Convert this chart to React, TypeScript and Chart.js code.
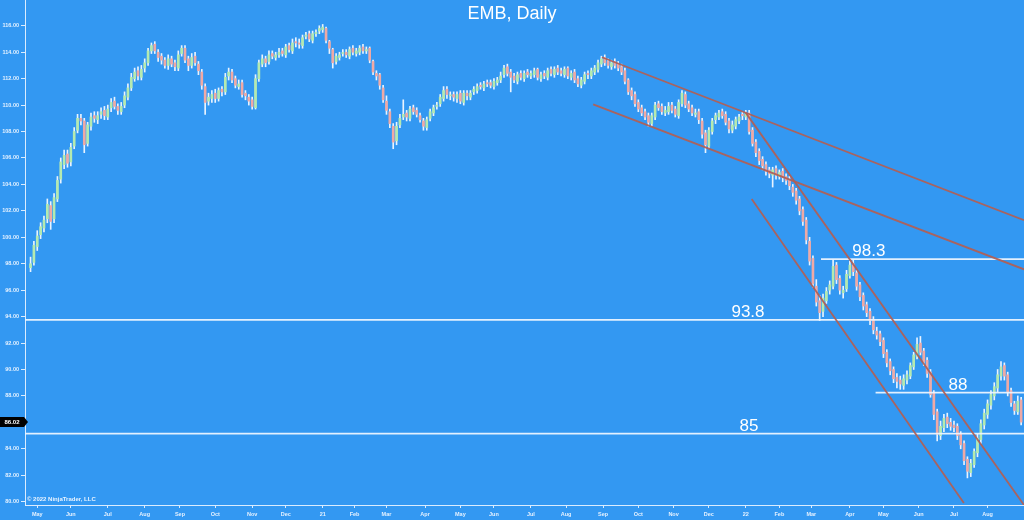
import React, { useEffect, useRef } from 'react';
import { Chart, registerables } from 'chart.js';

Chart.register(...registerables);

const TITLE = 'EMB, Daily';
const COPYRIGHT = '© 2022 NinjaTrader, LLC';
const BG = '#3398f2';
const FONT = '"Liberation Sans", Arial, sans-serif';

// x axis = trading-session index (0 = first session of May 2020)
const FIRST_SESSION = -4;
const SESSION_STEP = 2;
const X_MIN = -7.3;
const X_MAX = 587.7;
const Y_MIN = 79.75;
const Y_MAX = 117.95;

const MONTH_TICKS = [0, 20, 42, 64, 85, 106, 128, 148, 170, 189, 208, 231, 252, 272, 294, 315, 337, 358, 379, 400, 422, 442, 461, 484, 504, 525, 546, 566];
const MONTH_LABELS = ['May', 'Jun', 'Jul', 'Aug', 'Sep', 'Oct', 'Nov', 'Dec', '21', 'Feb', 'Mar', 'Apr', 'May', 'Jun', 'Jul', 'Aug', 'Sep', 'Oct', 'Nov', 'Dec', '22', 'Feb', 'Mar', 'Apr', 'May', 'Jun', 'Jul', 'Aug'];
const PRICE_TICKS = [80, 82, 84, 86, 88, 90, 92, 94, 96, 98, 100, 102, 104, 106, 108, 110, 112, 114, 116];

const OPEN = [
  97.7, 98.1, 99.3, 100.2, 100.7, 101.4, 102.4, 101.4, 102.9, 104.4,
  105.5, 106.3, 105.7, 106.9, 108.1, 109.0, 108.8, 107.1, 108.4, 109.2,
  108.9, 109.3, 109.6, 109.1, 109.8, 110.3, 109.9, 109.5, 110.0, 110.6,
  111.3, 112.0, 112.6, 112.1, 112.8, 113.2, 114.1, 114.6, 114.0, 113.7,
  113.4, 113.0, 113.5, 113.2, 112.8, 113.9, 114.3, 113.5, 113.0, 113.7,
  113.1, 112.5, 111.4, 110.3, 110.5, 110.9, 110.5, 111.2, 111.0, 112.2,
  112.5, 112.0, 111.4, 111.7, 110.9, 110.6, 110.4, 109.8, 112.0, 113.1,
  113.5, 113.3, 113.9, 113.6, 113.8, 114.1, 113.8, 114.5, 114.1, 114.8,
  114.7, 114.5, 115.2, 115.4, 114.9, 115.4, 115.6, 115.7, 115.8, 114.8,
  114.2, 113.3, 113.6, 113.9, 114.0, 113.7, 114.3, 113.9, 114.0, 114.4,
  114.1, 114.3, 113.3, 112.4, 112.3, 111.3, 110.3, 109.5, 108.4, 107.3,
  108.5, 109.1, 109.4, 109.0, 109.8, 109.6, 109.2, 108.8, 108.3, 109.0,
  109.4, 109.9, 110.1, 110.5, 111.2, 110.7, 110.8, 110.5, 110.9, 110.2,
  110.9, 110.6, 111.0, 111.1, 111.5, 111.3, 111.7, 111.7, 111.4, 111.7,
  111.9, 112.3, 112.9, 112.5, 112.2, 111.8, 112.4, 112.0, 112.5, 112.2,
  112.3, 112.7, 112.0, 112.4, 112.1, 112.7, 112.3, 112.8, 112.6, 112.3,
  112.8, 112.1, 112.5, 112.0, 111.5, 111.8, 112.4, 112.2, 112.5, 112.7,
  113.1, 113.6, 113.3, 112.9, 113.3, 113.1, 112.9, 112.6, 111.9, 111.1,
  110.8, 110.2, 109.8, 109.5, 109.2, 108.6, 109.1, 110.1, 109.9, 109.4,
  109.5, 110.0, 109.7, 109.2, 110.1, 110.8, 110.1, 109.8, 109.3, 109.5,
  108.8, 107.9, 106.9, 108.0, 108.9, 109.1, 109.5, 109.3, 108.8, 108.1,
  108.4, 108.8, 109.3, 109.1, 109.4, 108.1, 107.2, 106.5, 105.9, 105.5,
  105.1, 104.7, 105.2, 104.6, 105.0, 104.6, 104.4, 103.8, 103.5, 102.9,
  102.1, 101.3, 99.7, 98.4, 96.3, 95.2, 94.4, 95.2, 96.0, 96.3,
  97.9, 96.9, 95.8, 96.1, 97.1, 98.0, 97.3, 96.4, 95.6, 94.9,
  94.4, 93.8, 92.9, 92.7, 92.2, 91.3, 90.6, 90.0, 89.4, 89.2,
  88.8, 89.2, 89.5, 90.2, 91.0, 92.0, 91.4, 90.7, 89.8, 88.2,
  86.8, 85.0, 85.6, 86.4, 86.0, 85.8, 85.7, 85.1, 84.4, 83.2,
  82.2, 82.8, 83.7, 84.7, 85.8, 86.6, 87.3, 88.0, 88.6, 89.5,
  90.3, 89.6, 88.4, 87.4, 86.8, 87.7,
];

const HIGH = [
  98.5, 99.7, 100.5, 101.1, 101.6, 102.9, 102.7, 103.3, 104.6, 106.0,
  106.6, 106.6, 107.1, 108.3, 109.3, 109.3, 109.0, 108.7, 109.4, 109.5,
  109.5, 109.8, 109.9, 110.0, 110.5, 110.6, 110.1, 110.2, 111.0, 111.6,
  112.4, 112.8, 112.9, 113.0, 113.5, 114.3, 114.7, 114.8, 114.2, 113.9,
  113.6, 113.8, 113.7, 113.4, 114.1, 114.5, 114.5, 113.7, 113.9, 114.0,
  113.3, 112.7, 111.6, 110.9, 111.1, 111.2, 111.3, 111.4, 112.4, 112.8,
  112.7, 112.2, 111.9, 111.9, 111.1, 110.8, 110.6, 112.3, 113.4, 113.8,
  113.7, 114.1, 114.1, 114.0, 114.3, 114.3, 114.6, 114.7, 115.0, 115.1,
  115.0, 115.3, 115.5, 115.6, 115.6, 115.7, 116.0, 116.1, 115.9, 114.9,
  114.3, 113.9, 114.0, 114.2, 114.2, 114.4, 114.5, 114.3, 114.5, 114.6,
  114.4, 114.4, 113.4, 112.6, 112.4, 111.5, 110.7, 109.7, 108.6, 108.7,
  109.3, 110.4, 109.6, 109.9, 110.0, 109.8, 109.4, 109.0, 109.1, 109.7,
  110.0, 110.2, 110.8, 111.4, 111.4, 111.0, 111.0, 111.0, 111.1, 111.1,
  111.1, 111.1, 111.4, 111.6, 111.7, 111.8, 111.9, 111.9, 112.0, 112.1,
  112.5, 113.0, 113.1, 112.7, 112.4, 112.5, 112.6, 112.6, 112.7, 112.6,
  112.8, 112.8, 112.5, 112.6, 112.8, 112.9, 112.9, 113.0, 112.8, 112.9,
  112.9, 112.6, 112.7, 112.2, 112.1, 112.5, 112.6, 112.8, 113.0, 113.4,
  113.7, 113.8, 113.5, 113.4, 113.5, 113.3, 113.1, 112.8, 112.0, 111.3,
  111.0, 110.4, 110.0, 109.7, 109.4, 109.4, 110.2, 110.3, 110.1, 109.9,
  110.2, 110.2, 109.9, 110.4, 111.1, 111.0, 110.3, 110.0, 109.7, 109.7,
  109.0, 108.1, 108.3, 109.0, 109.4, 109.6, 109.7, 109.5, 109.0, 108.8,
  109.1, 109.3, 109.5, 109.6, 109.6, 108.3, 107.4, 106.7, 106.1, 105.7,
  105.3, 105.3, 105.4, 105.1, 105.2, 104.8, 104.6, 104.0, 103.7, 103.1,
  102.3, 101.5, 100.0, 98.6, 96.8, 95.6, 95.7, 96.2, 96.7, 98.3,
  98.1, 97.1, 96.3, 97.5, 98.2, 98.3, 97.5, 96.6, 95.8, 95.1,
  94.6, 94.0, 93.2, 92.9, 92.4, 91.5, 90.8, 90.2, 89.7, 89.5,
  89.6, 89.9, 90.5, 91.3, 92.4, 92.5, 91.6, 90.9, 90.0, 88.4,
  87.0, 86.1, 86.6, 86.7, 86.3, 86.1, 85.9, 85.3, 84.6, 83.4,
  83.2, 84.0, 85.1, 86.2, 87.0, 87.7, 88.4, 89.0, 90.0, 90.6,
  90.5, 89.8, 88.6, 87.6, 88.0, 87.9,
];

const LOW = [
  97.4, 97.9, 99.0, 99.9, 100.4, 101.1, 100.6, 101.1, 102.7, 104.1,
  105.2, 105.3, 105.4, 106.7, 107.9, 108.5, 106.4, 106.9, 108.1, 108.7,
  108.6, 109.0, 108.9, 108.9, 109.5, 109.7, 109.3, 109.3, 109.8, 110.4,
  111.1, 111.8, 111.9, 111.9, 112.5, 113.0, 113.9, 113.9, 113.3, 113.1,
  112.8, 112.7, 112.9, 112.6, 112.6, 113.7, 113.2, 112.6, 112.8, 113.0,
  112.3, 111.2, 109.3, 110.0, 110.2, 110.2, 110.3, 110.7, 110.8, 111.9,
  111.7, 111.3, 111.2, 110.6, 110.4, 110.0, 109.7, 109.7, 111.8, 112.9,
  112.9, 113.1, 113.5, 113.4, 113.6, 113.7, 113.6, 114.0, 113.9, 114.4,
  114.3, 114.3, 115.0, 114.8, 114.7, 115.2, 115.4, 115.5, 114.7, 113.9,
  112.8, 113.1, 113.4, 113.7, 113.6, 113.5, 113.8, 113.7, 113.8, 113.9,
  113.9, 113.2, 112.3, 111.9, 111.2, 110.2, 109.3, 108.3, 106.7, 107.0,
  108.3, 108.9, 108.8, 108.8, 109.3, 109.1, 108.7, 108.1, 108.1, 108.8,
  109.2, 109.7, 109.9, 110.3, 110.5, 110.4, 110.3, 110.2, 110.1, 110.0,
  110.4, 110.4, 110.8, 110.9, 111.2, 111.1, 111.4, 111.3, 111.2, 111.5,
  111.7, 112.1, 112.2, 111.0, 111.7, 111.6, 111.9, 111.8, 112.1, 112.0,
  112.1, 111.9, 111.8, 112.0, 111.9, 112.2, 112.1, 112.3, 112.2, 112.1,
  112.0, 111.9, 111.7, 111.4, 111.3, 111.6, 112.0, 112.0, 112.3, 112.5,
  112.9, 113.0, 112.8, 112.7, 112.8, 112.6, 112.3, 111.6, 110.8, 110.4,
  109.9, 109.5, 109.2, 108.9, 108.4, 108.4, 108.9, 109.6, 109.3, 109.2,
  109.3, 109.4, 109.1, 109.0, 109.9, 109.8, 109.5, 109.2, 109.1, 108.6,
  107.5, 106.4, 106.7, 107.8, 108.6, 108.9, 109.0, 108.5, 107.9, 107.9,
  108.2, 108.6, 108.9, 108.9, 107.8, 106.9, 106.1, 105.5, 105.1, 104.7,
  104.5, 103.8, 104.4, 104.4, 104.2, 104.0, 103.6, 103.1, 102.5, 101.7,
  100.9, 99.5, 97.9, 96.2, 94.8, 93.7, 94.0, 95.0, 95.7, 96.1,
  96.5, 95.7, 95.4, 95.9, 96.9, 97.1, 96.0, 95.2, 94.5, 94.0,
  93.4, 92.7, 92.3, 91.8, 90.9, 90.2, 89.6, 89.0, 88.6, 88.5,
  88.5, 88.9, 89.3, 90.0, 90.8, 91.1, 90.3, 89.4, 87.9, 86.2,
  84.6, 84.7, 85.3, 85.6, 85.4, 85.3, 84.7, 84.0, 82.8, 81.8,
  81.9, 82.6, 83.4, 84.4, 85.5, 86.3, 87.0, 87.7, 88.3, 89.2,
  89.2, 88.0, 87.2, 86.6, 86.6, 85.8,
];

const CLOSE = [
  98.0, 99.4, 100.1, 100.8, 101.3, 102.5, 101.2, 103.0, 104.3, 105.7,
  106.2, 105.6, 106.8, 108.0, 109.0, 108.8, 107.0, 108.5, 109.1, 109.0,
  109.2, 109.5, 109.2, 109.7, 110.2, 109.9, 109.6, 109.9, 110.7, 111.3,
  112.1, 112.5, 112.2, 112.7, 113.2, 114.1, 114.5, 114.1, 113.6, 113.4,
  113.0, 113.5, 113.1, 112.9, 113.8, 114.3, 113.4, 113.0, 113.6, 113.2,
  112.6, 111.5, 110.2, 110.6, 110.8, 110.5, 111.1, 111.0, 112.1, 112.5,
  111.9, 111.5, 111.6, 110.8, 110.7, 110.3, 109.9, 112.0, 113.2, 113.5,
  113.2, 113.8, 113.7, 113.8, 114.0, 113.9, 114.4, 114.2, 114.7, 114.7,
  114.6, 115.1, 115.3, 115.0, 115.4, 115.5, 115.8, 115.9, 114.9, 114.3,
  113.2, 113.7, 113.8, 113.9, 113.8, 114.2, 114.0, 114.1, 114.3, 114.1,
  114.2, 113.4, 112.5, 112.2, 111.5, 110.4, 109.6, 108.6, 107.2, 108.4,
  109.0, 109.3, 109.1, 109.7, 109.5, 109.3, 108.9, 108.4, 108.9, 109.5,
  109.8, 110.0, 110.6, 111.1, 110.8, 110.7, 110.6, 110.8, 110.3, 110.9,
  110.7, 110.9, 111.2, 111.4, 111.4, 111.6, 111.6, 111.5, 111.8, 111.9,
  112.2, 112.8, 112.4, 112.1, 111.9, 112.3, 112.1, 112.4, 112.3, 112.4,
  112.6, 112.1, 112.3, 112.2, 112.6, 112.4, 112.7, 112.5, 112.4, 112.7,
  112.2, 112.4, 111.9, 111.6, 111.9, 112.3, 112.3, 112.6, 112.8, 113.2,
  113.5, 113.2, 113.0, 113.2, 113.0, 112.8, 112.5, 111.8, 111.0, 110.7,
  110.1, 109.7, 109.4, 109.1, 108.7, 109.2, 110.0, 109.8, 109.5, 109.6,
  109.9, 109.6, 109.3, 110.2, 110.9, 110.0, 109.7, 109.4, 109.4, 108.9,
  107.8, 107.0, 108.1, 108.8, 109.2, 109.4, 109.2, 108.7, 108.2, 108.5,
  108.9, 109.1, 109.2, 109.4, 108.0, 107.1, 106.4, 105.8, 105.4, 105.0,
  104.8, 105.1, 104.7, 104.9, 104.5, 104.3, 103.9, 103.4, 102.8, 102.0,
  101.2, 99.8, 98.2, 96.5, 95.1, 94.3, 95.4, 95.9, 96.4, 97.8,
  96.8, 96.0, 96.0, 97.2, 97.9, 97.4, 96.3, 95.5, 94.8, 94.3,
  93.7, 93.0, 92.6, 92.1, 91.2, 90.5, 89.9, 89.3, 89.1, 88.9,
  89.3, 89.6, 90.3, 91.1, 91.9, 91.3, 90.6, 89.7, 88.1, 86.6,
  85.1, 85.7, 86.3, 85.9, 85.7, 85.6, 85.0, 84.3, 83.1, 82.3,
  82.9, 83.8, 84.8, 85.9, 86.7, 87.4, 88.1, 88.7, 89.6, 90.2,
  89.5, 88.3, 87.5, 86.9, 87.6, 86.02,
];

const LAST_PRICE = 86.02;

// horizontal support / resistance levels
const LEVEL_VALUES = [93.75, 98.35, 88.25, 85.15];
const LEVEL_FROM = [-7.3, 466.8, 499.3, -7.3];
const LEVEL_TO = [587.7, 587.7, 587.7, 587.7];
const LEVEL_LABELS = ['93.8', '98.3', '88', '85'];
const LEVEL_LABEL_AT = [423.3, 495.3, 548.4, 423.9];

// trend / channel lines
const TREND_X1 = [336.3, 331.1, 421.9, 425.5];
const TREND_Y1 = [113.62, 110.06, 109.43, 102.9];
const TREND_X2 = [587.7, 587.7, 587.7, 551.9];
const TREND_Y2 = [101.3, 97.58, 79.75, 79.9];

const UP = '#b4eab0';
const DOWN = '#efa9a5';
const WICK = 'rgba(242,248,255,0.95)';
const AXIS = 'rgba(228,240,255,0.95)';
const TREND = 'rgba(176,96,86,0.95)';
const LEVEL = 'rgba(236,244,255,0.95)';

const overlay = {
  id: 'overlay',
  beforeDraw(chart: any) {
    const { ctx, width, height } = chart;
    ctx.save();
    ctx.fillStyle = BG;
    ctx.fillRect(0, 0, width, height);
    ctx.restore();
  },
  afterDraw(chart: any) {
    const { ctx, chartArea, scales } = chart;
    const x = scales.x;
    const y = scales.y;
    ctx.save();
    // level labels
    ctx.fillStyle = '#ffffff';
    ctx.font = `17px ${FONT}`;
    ctx.textAlign = 'center';
    ctx.textBaseline = 'alphabetic';
    LEVEL_VALUES.forEach((v, i) => {
      ctx.fillText(LEVEL_LABELS[i], x.getPixelForValue(LEVEL_LABEL_AT[i]), y.getPixelForValue(v) - 3);
    });
    // title
    ctx.font = `18px ${FONT}`;
    ctx.textBaseline = 'middle';
    ctx.fillText(TITLE, chart.width / 2, 14);
    // copyright
    ctx.font = `bold 6px ${FONT}`;
    ctx.textAlign = 'left';
    ctx.fillStyle = '#e8f3ff';
    ctx.fillText(COPYRIGHT, chartArea.left + 2, 499);
    // last price marker
    const py = y.getPixelForValue(LAST_PRICE);
    ctx.fillStyle = '#000000';
    ctx.beginPath();
    ctx.moveTo(0, py - 5);
    ctx.lineTo(24, py - 5);
    ctx.lineTo(28, py);
    ctx.lineTo(24, py + 5);
    ctx.lineTo(0, py + 5);
    ctx.closePath();
    ctx.fill();
    ctx.fillStyle = '#ffffff';
    ctx.font = `bold 6px ${FONT}`;
    ctx.textAlign = 'center';
    ctx.fillText(LAST_PRICE.toFixed(2), 12, py + 0.5);
    ctx.restore();
  },
};

export default function App() {
  const ref = useRef<HTMLCanvasElement>(null);

  useEffect(() => {
    document.body.style.margin = '0';
    document.body.style.background = BG;
    const n = Math.min(OPEN.length, HIGH.length, LOW.length, CLOSE.length);
    const xs = Array.from({ length: n }, (_, i) => FIRST_SESSION + SESSION_STEP * i);
    const wicks = xs.map((xv, i) => ({ x: xv, y: [LOW[i], HIGH[i]] }));
    const bodies = xs.map((xv, i) => ({ x: xv, y: [OPEN[i], CLOSE[i]] }));
    const bodyColors = xs.map((_, i) => (CLOSE[i] >= OPEN[i] ? UP : DOWN));

    const levelSets = LEVEL_VALUES.map((v, i) => ({
      type: 'line',
      data: [
        { x: LEVEL_FROM[i], y: v },
        { x: LEVEL_TO[i], y: v },
      ],
      borderColor: LEVEL,
      borderWidth: 1.8,
      pointRadius: 0,
      fill: false,
      order: 2,
    }));
    const trendSets = TREND_X1.map((x1, i) => ({
      type: 'line',
      data: [
        { x: x1, y: TREND_Y1[i] },
        { x: TREND_X2[i], y: TREND_Y2[i] },
      ],
      borderColor: TREND,
      borderWidth: 1.8,
      pointRadius: 0,
      fill: false,
      order: 1,
    }));

    const tickFont = { family: FONT, size: 5.5, weight: 'bold' as const };

    const chart = new Chart(ref.current as HTMLCanvasElement, {
      type: 'bar',
      data: {
        datasets: [
          {
            type: 'bar',
            data: wicks as any,
            backgroundColor: WICK,
            barThickness: 1,
            grouped: false,
            order: 10,
          },
          {
            type: 'bar',
            data: bodies as any,
            backgroundColor: bodyColors,
            barThickness: 2,
            minBarLength: 1,
            grouped: false,
            order: 9,
          },
          ...(levelSets as any[]),
          ...(trendSets as any[]),
        ] as any,
      },
      options: {
        responsive: false,
        animation: false,
        devicePixelRatio: 1,
        layout: { padding: 0 },
        plugins: {
          legend: { display: false },
          tooltip: { enabled: false },
          title: { display: false },
        },
        events: [],
        scales: {
          x: {
            type: 'linear',
            min: X_MIN,
            max: X_MAX,
            offset: false,
            grid: { display: true, drawOnChartArea: false, offset: false, tickLength: 3, color: AXIS },
            border: { display: true, color: AXIS, width: 1 },
            ticks: {
              autoSkip: false,
              maxRotation: 0,
              padding: 3,
              color: '#e4f1ff',
              font: tickFont,
              callback: (value: any) => {
                const idx = MONTH_TICKS.indexOf(Number(value));
                return idx >= 0 ? MONTH_LABELS[idx] : '';
              },
            },
            afterBuildTicks: (axis: any) => {
              axis.ticks = MONTH_TICKS.map((v) => ({ value: v }));
            },
            afterFit: (axis: any) => {
              axis.height = 15;
              axis.paddingLeft = 0;
              axis.paddingRight = 0;
            },
          },
          y: {
            type: 'linear',
            position: 'left',
            min: Y_MIN,
            max: Y_MAX,
            grid: { display: true, drawOnChartArea: false, tickLength: 4, color: AXIS },
            border: { display: true, color: AXIS, width: 1 },
            ticks: {
              padding: 2,
              color: '#e4f1ff',
              font: tickFont,
              callback: (value: any) => Number(value).toFixed(2),
            },
            afterBuildTicks: (axis: any) => {
              axis.ticks = PRICE_TICKS.map((v) => ({ value: v }));
            },
            afterFit: (axis: any) => {
              axis.width = 25;
              axis.paddingTop = 0;
              axis.paddingBottom = 0;
            },
          },
        },
      } as any,
      plugins: [overlay],
    });

    return () => chart.destroy();
  }, []);

  return (
    <div style={{ width: 1024, height: 520, background: BG }}>
      <canvas ref={ref} width={1024} height={520} style={{ display: 'block' }} />
    </div>
  );
}
